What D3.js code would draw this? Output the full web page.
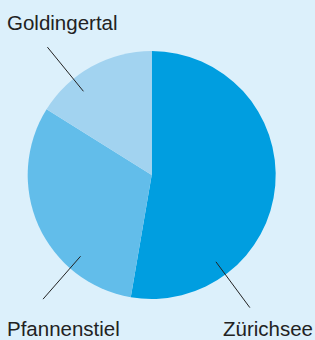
<!DOCTYPE html>
<html>
<head>
<meta charset="utf-8">
<script src="https://cdn.jsdelivr.net/npm/d3@7"></script>
<style>
  html, body { margin: 0; padding: 0; background: #dcf0fb; }
  svg { display: block; }
</style>
</head>
<body>
<div id="chart"></div>
<script>
const regions = ['Zürichsee', 'Pfannenstiel', 'Goldingertal'];
const shares = [52.7, 31.2, 16.1];
const colors = ['#009ee0', '#62bdea', '#a2d3f0'];

// leader line angle (deg, clockwise from top) and label placement
const leaderAngle = [143.5, 221.2, 320.8];
const labelAnchor = ['end', 'start', 'start'];
const labelPos = [[313, 336], [7, 336], [7, 30]];

const width = 315, height = 340;
const cx = 151.7, cy = 175, radius = 124;

const svg = d3.select('#chart')
  .append('svg')
  .attr('width', width)
  .attr('height', height);

svg.append('rect')
  .attr('width', width)
  .attr('height', height)
  .attr('fill', '#dcf0fb');

const pie = d3.pie().sort(null).value(d => d);
const arc = d3.arc().innerRadius(0).outerRadius(radius);

const g = svg.append('g').attr('transform', `translate(${cx},${cy})`);

g.selectAll('path')
  .data(pie(shares))
  .enter()
  .append('path')
  .attr('d', arc)
  .attr('fill', (d, i) => colors[i]);

// leader lines
const polar = (deg, r) => {
  const a = deg * Math.PI / 180;
  return [Math.sin(a) * r, -Math.cos(a) * r];
};

g.selectAll('line')
  .data(leaderAngle)
  .enter()
  .append('line')
  .attr('x1', d => polar(d, 108)[0])
  .attr('y1', d => polar(d, 108)[1])
  .attr('x2', d => polar(d, 165)[0])
  .attr('y2', d => polar(d, 165)[1])
  .attr('stroke', '#222')
  .attr('stroke-width', 1);

svg.selectAll('text')
  .data(regions)
  .enter()
  .append('text')
  .attr('x', (d, i) => labelPos[i][0])
  .attr('y', (d, i) => labelPos[i][1])
  .attr('text-anchor', (d, i) => labelAnchor[i])
  .attr('font-family', 'Liberation Sans, Arial, sans-serif')
  .attr('font-size', 20.5)
  .attr('fill', '#222')
  .text(d => d);
</script>
</body>
</html>
